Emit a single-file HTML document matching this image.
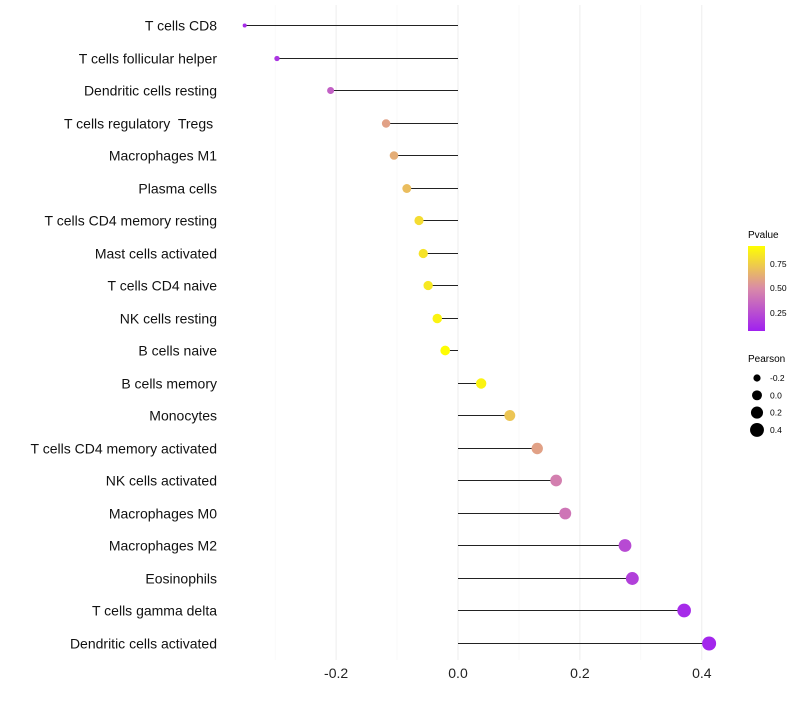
<!DOCTYPE html>
<html><head><meta charset="utf-8"><style>
body{margin:0;background:#fff;font-family:"Liberation Sans",sans-serif;}
text{white-space:pre;}
</style></head><body>
<svg id="chart" width="800" height="700" xmlns="http://www.w3.org/2000/svg" font-family="Liberation Sans, sans-serif">
<defs><linearGradient id="pg" x1="0" y1="1" x2="0" y2="0">
<stop offset="0" stop-color="#a020f0"/><stop offset="0.5" stop-color="#d98aa8"/><stop offset="1" stop-color="#ffff00"/>
</linearGradient></defs>
<g id="grid"></g><g id="marks"></g><g id="labels"></g>
<g>
<text x="748" y="238" font-size="10">Pvalue</text>
<rect x="748" y="246" width="17" height="85" fill="url(#pg)"/>
<text x="770" y="267" font-size="8.5">0.75</text>
<text x="770" y="291" font-size="8.5">0.50</text>
<text x="770" y="316" font-size="8.5">0.25</text>
</g>
<g id="sizeleg">
<text x="748" y="362" font-size="10">Pearson</text>
</g>
</svg>
<script>
const categories=["T cells CD8","T cells follicular helper","Dendritic cells resting","T cells regulatory  Tregs ","Macrophages M1","Plasma cells","T cells CD4 memory resting","Mast cells activated","T cells CD4 naive","NK cells resting","B cells naive","B cells memory","Monocytes","T cells CD4 memory activated","NK cells activated","Macrophages M0","Macrophages M2","Eosinophils","T cells gamma delta","Dendritic cells activated"];
const pearson=[-0.350,-0.297,-0.209,-0.118,-0.105,-0.084,-0.064,-0.057,-0.049,-0.034,-0.021,0.038,0.085,0.130,0.161,0.176,0.274,0.286,0.371,0.412];
const pvalues=[0.05,0.10,0.30,0.60,0.65,0.72,0.85,0.88,0.90,0.95,0.99,0.95,0.75,0.60,0.45,0.40,0.20,0.15,0.05,0.03];
const xTicks=[-0.2,0.0,0.2,0.4];
const sizeTicks=[-0.2,0.0,0.2,0.4];
const NS="http://www.w3.org/2000/svg";
const X=v=>458+v*609.5;
const Y=i=>Math.round(25+i*32.5)+0.5;
const R=v=>Math.sqrt(Math.max(1,24.7+59*v));
function col(p){const s=[[160,32,240],[217,138,168],[255,255,0]];let t=Math.max(0,Math.min(1,p))*2;let k=t>=1?1:0;t-=k;const a=s[k],b=s[k+1];return`rgb(${a.map((c,j)=>Math.round(c+(b[j]-c)*t)).join(",")})`;}
function mk(tag,attrs,parent){const e=document.createElementNS(NS,tag);for(const k in attrs)e.setAttribute(k,attrs[k]);parent.appendChild(e);return e;}
const grid=document.getElementById('grid'),marks=document.getElementById('marks'),labels=document.getElementById('labels');
for(let v=-0.3;v<=0.41;v+=0.2){const g=mk('line',{x1:X(v),x2:X(v),y1:5,y2:660,stroke:'#f6f6f6','stroke-width':0.6},grid);}
xTicks.forEach(v=>{const g=mk('line',{x1:X(v),x2:X(v),y1:5,y2:660,stroke:'#ededed','stroke-width':1},grid);
const t=mk('text',{x:X(v),y:678,'font-size':14,'text-anchor':'middle',fill:'#222'},labels);t.textContent=v.toFixed(1);});
categories.forEach((c,i)=>{const y=Y(i);
const l=mk('line',{x1:X(0),x2:X(pearson[i]),y1:y,y2:y,stroke:'#222','stroke-width':1},marks);
const d=mk('circle',{cx:X(pearson[i]),cy:y,r:R(pearson[i]),fill:col(pvalues[i])},marks);
const t=mk('text',{x:217,y:y+5,'font-size':14,'text-anchor':'end',fill:'#111'},labels);t.textContent=c;});
const sl=document.getElementById('sizeleg');
sizeTicks.forEach((v,i)=>{const y=378+i*17.3;const c=mk('circle',{cx:757,cy:y,r:R(v),fill:'#000'},sl);
const t=mk('text',{x:770,y:y+3,'font-size':8.5},sl);t.textContent=v.toFixed(1);});
</script>
</body></html>
